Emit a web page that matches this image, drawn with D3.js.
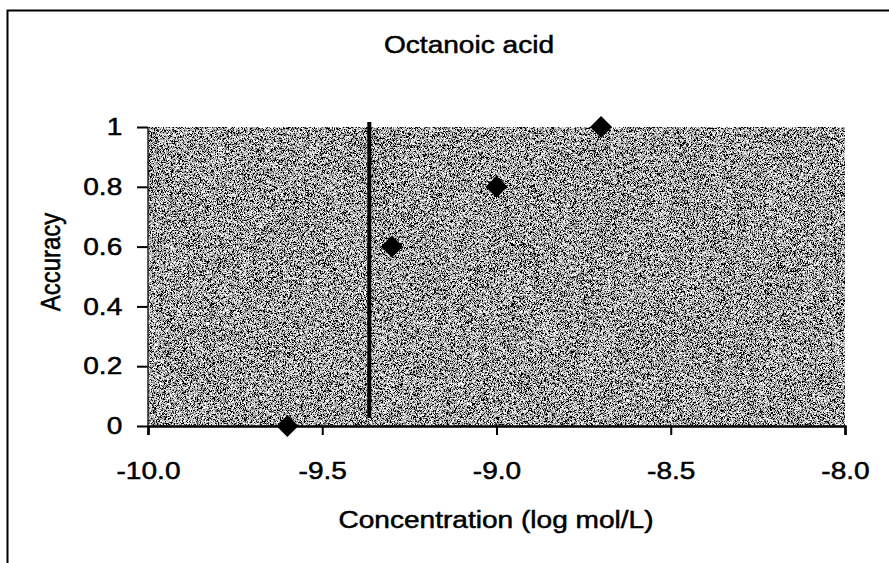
<!DOCTYPE html>
<html><head><meta charset="utf-8">
<script src="https://cdn.jsdelivr.net/npm/d3@7"></script>
<style>body{margin:0;background:#fff}svg{display:block}text{font-family:Arial,"Liberation Sans",sans-serif;fill:#000;stroke:#000;stroke-width:0.5px}</style>
</head><body>
<script>
const xValues = [-9.6, -9.3, -9.0, -8.7];
const yValues = [0, 0.6, 0.8, 1.0];
const xTicks = [-10.0, -9.5, -9.0, -8.5, -8.0];
const yTicks = [0, 0.2, 0.4, 0.6, 0.8, 1];
const thresholdX = -9.365;
const thresholdY = [0.027, 1.017];
const title = "Octanoic acid";
const xTitle = "Concentration (log mol/L)";
const yTitle = "Accuracy";

const W = 889, H = 563, SX = 1.17;
const svg = d3.select("body").append("svg").attr("width", W).attr("height", H);
const x = d3.scaleLinear().domain([-10, -8]).range([148, 845]);
const y = d3.scaleLinear().domain([0, 1]).range([426, 127]);

const defs = svg.append("defs");
const f = defs.append("filter").attr("id","noise").attr("x",0).attr("y",0).attr("width","100%").attr("height","100%");
f.append("feTurbulence").attr("type","fractalNoise").attr("baseFrequency",1.7).attr("numOctaves",2).attr("seed",11).attr("result","t");
f.append("feColorMatrix").attr("in","t").attr("type","matrix")
  .attr("values","1 0 0 0 0  1 0 0 0 0  1 0 0 0 0  0 0 0 0 1").attr("result","g");
const ct = f.append("feComponentTransfer").attr("in","g").attr("result","c");
["feFuncR","feFuncG","feFuncB"].forEach(n => ct.append(n).attr("type","linear").attr("slope",3.6).attr("intercept",-1.4));
f.append("feComposite").attr("in","c").attr("in2","SourceGraphic").attr("operator","in");

// frame
svg.append("path").attr("d", `M7.5,${H} V10.5 H${W}`).attr("fill","none").attr("stroke","#000").attr("stroke-width",2);

// plot area
svg.append("rect").attr("x", x(-10)).attr("y", y(1)).attr("width", x(-8)-x(-10)).attr("height", y(0)-y(1)).attr("fill", "#6e6e6e");
svg.append("rect").attr("x", x(-10)).attr("y", y(1)).attr("width", x(-8)-x(-10)).attr("height", y(0)-y(1)).attr("fill", "#808080").attr("filter","url(#noise)");

// axes
const xa = svg.append("g").attr("transform", `translate(0,${y(0)})`)
  .call(d3.axisBottom(x).tickValues(xTicks).tickFormat(d => d3.format(".1f")(d).replace("−","-")).tickSize(9).tickPadding(27));
const ya = svg.append("g").attr("transform", `translate(${x(-10)},0)`)
  .call(d3.axisLeft(y).tickValues(yTicks).tickFormat(d => d3.format("~g")(d)).tickSize(11).tickPadding(11));
[xa, ya].forEach(g => {
  g.selectAll(".tick line").attr("stroke","#000").attr("stroke-width",2);
  g.selectAll(".tick text").style("font-size","24px").attr("fill","#000").attr("transform", `scale(${SX},1)`);
});
xa.select(".domain").attr("stroke","#000").attr("stroke-width",2.5);
ya.select(".domain").remove();
ya.append("line").attr("x1",0).attr("x2",0).attr("y1",y(1)).attr("y2",y(0)).attr("stroke","#222").attr("stroke-width",1.5);

// threshold line
svg.append("line").attr("x1", x(thresholdX)).attr("x2", x(thresholdX))
  .attr("y1", y(thresholdY[1])).attr("y2", y(thresholdY[0])).attr("stroke","#000").attr("stroke-width",4);

// points
svg.selectAll(".pt").data(xValues.map((v,i)=>[v,yValues[i]])).enter().append("path")
  .attr("d", "M0,-11L11,0L0,11L-11,0Z").attr("fill","#000")
  .attr("transform", d => `translate(${x(d[0])},${y(d[1])})`);

// titles
svg.append("text").attr("transform",`translate(469,53) scale(${SX},1)`).attr("text-anchor","middle").style("font-size","24px").text(title);
svg.append("text").attr("transform",`translate(496,528) scale(${SX},1)`).attr("text-anchor","middle").style("font-size","24px").text(xTitle);
svg.append("text").attr("transform",`translate(60,262) scale(${SX},1) rotate(-90)`).attr("text-anchor","middle").style("font-size","24px").text(yTitle);
</script>
</body></html>
